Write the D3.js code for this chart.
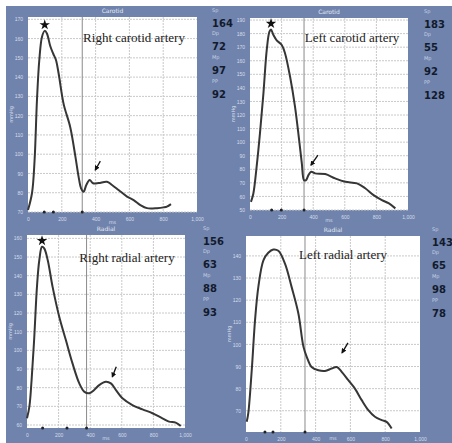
<!DOCTYPE html>
<html>
<head>
<meta charset="utf-8">
<script src="https://cdn.jsdelivr.net/npm/d3@7"></script>
<style>
  body { margin: 0; background: #fff; }
  svg { display: block; }
</style>
</head>
<body>
<svg id="chart"></svg>
<script>
// Pulse waveforms as [ms, mmHg]
const rightCarotid = [[0, 71], [24, 80], [39, 97], [53, 128], [67, 149], [83, 161], [99, 164], [112, 162.6],
  [132, 156], [150, 152], [165, 149], [181, 142], [211, 126], [250, 114], [280, 99], [300, 88], [314, 82.3],
  [329, 80.5], [345, 84], [365, 86.6], [385, 84.9], [418, 85], [467, 85.7], [497, 84], [536, 81.4],
  [586, 78], [625, 76.2], [665, 73.6], [704, 72], [763, 72], [803, 72.4], [822, 72.8], [846, 74.1]]

const leftCarotid = [[6, 56], [21, 62], [42, 82], [63, 106.5], [85, 136], [106, 168], [123, 181.4], [133, 183],
  [148, 179], [169, 175], [201, 171.6], [222, 165.4], [254, 148], [285, 126], [311, 101.5], [328, 84.4],
  [342, 72], [355, 72], [370, 75.7], [387, 78.2], [412, 77], [476, 76.5], [539, 73.3], [603, 70.8],
  [677, 69.6], [729, 66], [782, 61], [835, 57.3], [877, 55], [920, 51.2]]

const rightRadial = [[0, 63.6], [15, 69.8], [29, 84], [46, 107], [63, 134], [78, 148.4], [95, 155.5],
  [109, 154.6], [131, 148.4], [162, 134], [204, 118], [246, 105.5], [288, 93], [331, 82.3], [362, 77.9],
  [394, 77], [425, 78.8], [457, 81.4], [499, 83.2], [531, 82.3], [562, 78.8], [604, 74.3], [667, 70.7],
  [731, 68.4], [794, 66.3], [857, 63.6], [899, 61.8], [941, 61.3], [973, 59.5]]

const leftRadial = [[4, 65], [13, 68.8], [33, 88.3], [52, 111], [71, 126], [100, 138], [128, 141.4],
  [157, 142.9], [186, 142.3], [224, 136.5], [262, 126], [301, 114], [330, 99], [349, 94.4], [377, 89.8],
  [416, 88.3], [454, 88], [492, 89.1], [521, 89.8], [550, 87.6], [588, 83.8], [626, 80], [665, 74.8],
  [703, 70.3], [741, 67.3], [780, 65.8], [808, 65], [837, 62]]

// Sp, Dp, Mp, PP shown beside each panel
const statLabels = ["Sp", "Dp", "Mp", "PP"]
const rightCarotidStats = [164, 72, 97, 92]
const leftCarotidStats = [183, 55, 92, 128]
const rightRadialStats = [156, 63, 88, 93]
const leftRadialStats = [143, 65, 98, 78]

// Foot / peak / notch markers on the time axis (ms)
const rightCarotidMarks = [96, 150, 321]
const leftCarotidMarks = [137, 198, 342]
const rightRadialMarks = [99, 253, 377]
const leftRadialMarks = [109, 155, 339]

// Arrows pointing at the notch: [tail, head] in [ms, mmHg]
const rightCarotidArrow = [[428, 96.4], [398, 91.8]]
const leftCarotidArrow = [[430, 90.5], [386, 83]]
const rightRadialArrow = [[565, 91.2], [540, 85.8]]
const leftRadialArrow = [[586, 100.7], [552, 96.2]]

// Tick labels
const xTicks = [0, 200, 400, 600, 800, 1000]
const rightCarotidYTicks = [70, 80, 90, 100, 110, 120, 130, 140, 150, 160, 170]
const leftCarotidYTicks = [50, 60, 70, 80, 90, 100, 110, 120, 130, 140, 150, 160, 170, 180, 190]
const rightRadialYTicks = [60, 70, 80, 90, 100, 110, 120, 130, 140, 150, 160]
const leftRadialYTicks = [70, 80, 90, 100, 110, 120, 130, 140]

const W = 452, H = 443
const blue = "#6f83ad"

const svg = d3.select("#chart")
  .attr("width", W)
  .attr("height", H)
  .style("font-family", "'DejaVu Sans', sans-serif")

svg.append("rect")
  .attr("x", 6).attr("y", 6)
  .attr("width", W - 6).attr("height", H - 6)
  .attr("fill", blue)

const defs = svg.append("defs")
defs.append("marker")
  .attr("id", "head")
  .attr("viewBox", "0 0 10 10")
  .attr("refX", 8).attr("refY", 5)
  .attr("markerWidth", 4).attr("markerHeight", 4)
  .attr("orient", "auto")
  .append("path")
  .attr("d", "M0,0L10,5L0,10Z")
  .attr("fill", "#111")

const panels = [
  { data: rightCarotid, stats: rightCarotidStats, marks: rightCarotidMarks, arrow: rightCarotidArrow,
    yTicks: rightCarotidYTicks, yDomain: [70, 171.2], title: "Right carotid artery", vessel: "Carotid",
    box: [28, 197, 17, 212], titleAt: [134, 42], statX: 212, star: true },
  { data: leftCarotid, stats: leftCarotidStats, marks: leftCarotidMarks, arrow: leftCarotidArrow,
    yTicks: leftCarotidYTicks, yDomain: [50, 191.5], title: "Left carotid artery", vessel: "Carotid",
    box: [250, 408, 18, 210], titleAt: [352, 42], statX: 424, star: true },
  { data: rightRadial, stats: rightRadialStats, marks: rightRadialMarks, arrow: rightRadialArrow,
    yTicks: rightRadialYTicks, yDomain: [58.4, 161.8], title: "Right radial artery", vessel: "Radial",
    box: [27, 185, 235, 428], titleAt: [127, 262], statX: 203, star: true },
  { data: leftRadial, stats: leftRadialStats, marks: leftRadialMarks, arrow: leftRadialArrow,
    yTicks: leftRadialYTicks, yDomain: [60.4, 149], title: "Left radial artery", vessel: "Radial",
    box: [246, 420, 236, 432], titleAt: [343, 259], statX: 432, star: false }
]

panels.forEach(p => {
  const [x0, x1, y0, y1] = p.box
  const x = d3.scaleLinear().domain([0, 1000]).range([x0, x1])
  const y = d3.scaleLinear().domain(p.yDomain).range([y1, y0])
  const g = svg.append("g")

  // Plot area
  g.append("rect")
    .attr("x", x0).attr("y", y0)
    .attr("width", x1 - x0).attr("height", y1 - y0)
    .attr("fill", "#fff")

  // Grid
  g.append("g")
    .selectAll("line")
    .data(p.yTicks)
    .join("line")
    .attr("x1", x0).attr("x2", x1)
    .attr("y1", d => y(d)).attr("y2", d => y(d))
    .attr("stroke", "#c9c9c9")
    .attr("stroke-dasharray", "2,1")
  g.append("g")
    .selectAll("line")
    .data(xTicks.slice(1, -1))
    .join("line")
    .attr("x1", d => x(d)).attr("x2", d => x(d))
    .attr("y1", y0).attr("y2", y1)
    .attr("stroke", "#c9c9c9")
    .attr("stroke-dasharray", "2,1")

  // Notch marker line
  g.append("line")
    .attr("x1", x(p.marks[2])).attr("x2", x(p.marks[2]))
    .attr("y1", y0).attr("y2", y1)
    .attr("stroke", "#8a8a8a")

  // Axes (labels only)
  g.append("g")
    .attr("transform", `translate(0,${y1})`)
    .call(d3.axisBottom(x).tickValues(xTicks).tickSize(0).tickPadding(5))
    .call(a => a.select(".domain").remove())
    .call(a => a.selectAll("text")
      .attr("fill", "#d7ddea")
      .attr("font-size", 5))
  g.append("g")
    .attr("transform", `translate(${x0},0)`)
    .call(d3.axisLeft(y).tickValues(p.yTicks).tickSize(0).tickPadding(5))
    .call(a => a.select(".domain").remove())
    .call(a => a.selectAll("text")
      .attr("fill", "#d7ddea")
      .attr("font-size", 5))

  g.append("text")
    .attr("x", (x0 + x1) / 2).attr("y", y0 - 4)
    .attr("text-anchor", "middle")
    .attr("font-size", 6)
    .attr("fill", "#e3e7f0")
    .text(p.vessel)
  g.append("text")
    .attr("x", (x0 + x1) / 2).attr("y", Math.min(y1 + 12, H - 3))
    .attr("text-anchor", "middle")
    .attr("font-size", 5)
    .attr("fill", "#d7ddea")
    .text("ms")
  g.append("text")
    .attr("transform", `translate(${x0 - 15},${(y0 + y1) / 2}) rotate(-90)`)
    .attr("text-anchor", "middle")
    .attr("font-size", 5)
    .attr("fill", "#d7ddea")
    .text("mmHg")

  // Marker dots on the time axis
  g.append("g")
    .selectAll("circle")
    .data(p.marks)
    .join("circle")
    .attr("cx", d => x(d)).attr("cy", y1)
    .attr("r", 1.5)
    .attr("fill", "#222")

  // Waveform
  g.append("path")
    .datum(p.data)
    .attr("d", d3.line()
      .x(d => x(d[0]))
      .y(d => y(d[1]))
      .curve(d3.curveCatmullRom.alpha(0.5)))
    .attr("fill", "none")
    .attr("stroke", "#363636")
    .attr("stroke-width", 2)
    .attr("stroke-linejoin", "round")

  // Peak star
  if (p.star) {
    const peak = d3.greatest(p.data, d => d[1])
    g.append("path")
      .attr("d", d3.symbol(d3.symbolStar, 34)())
      .attr("transform", `translate(${x(peak[0])},${y(peak[1]) - 6})`)
      .attr("fill", "#111")
  }

  // Arrow at the notch
  g.append("line")
    .attr("x1", x(p.arrow[0][0])).attr("y1", y(p.arrow[0][1]))
    .attr("x2", x(p.arrow[1][0])).attr("y2", y(p.arrow[1][1]))
    .attr("stroke", "#111")
    .attr("stroke-width", 1.3)
    .attr("marker-end", "url(#head)")

  // Panel caption
  g.append("text")
    .attr("x", p.titleAt[0]).attr("y", p.titleAt[1])
    .attr("text-anchor", "middle")
    .attr("font-family", "'Liberation Serif', serif")
    .attr("font-size", 13)
    .attr("fill", "#222")
    .text(p.title)

  // Pressure values
  const stats = g.append("g")
    .selectAll("g")
    .data(p.stats)
    .join("g")
    .attr("transform", (d, i) => `translate(${p.statX},${y0 + 9.5 + i * 23.7})`)
  stats.append("text")
    .attr("y", -15)
    .attr("font-size", 5)
    .attr("fill", "#c9d1e3")
    .text((d, i) => statLabels[i])
  stats.append("text")
    .attr("font-size", 10)
    .attr("font-weight", "bold")
    .attr("fill", "#121a2c")
    .text(d => d)
})
</script>
</body>
</html>
